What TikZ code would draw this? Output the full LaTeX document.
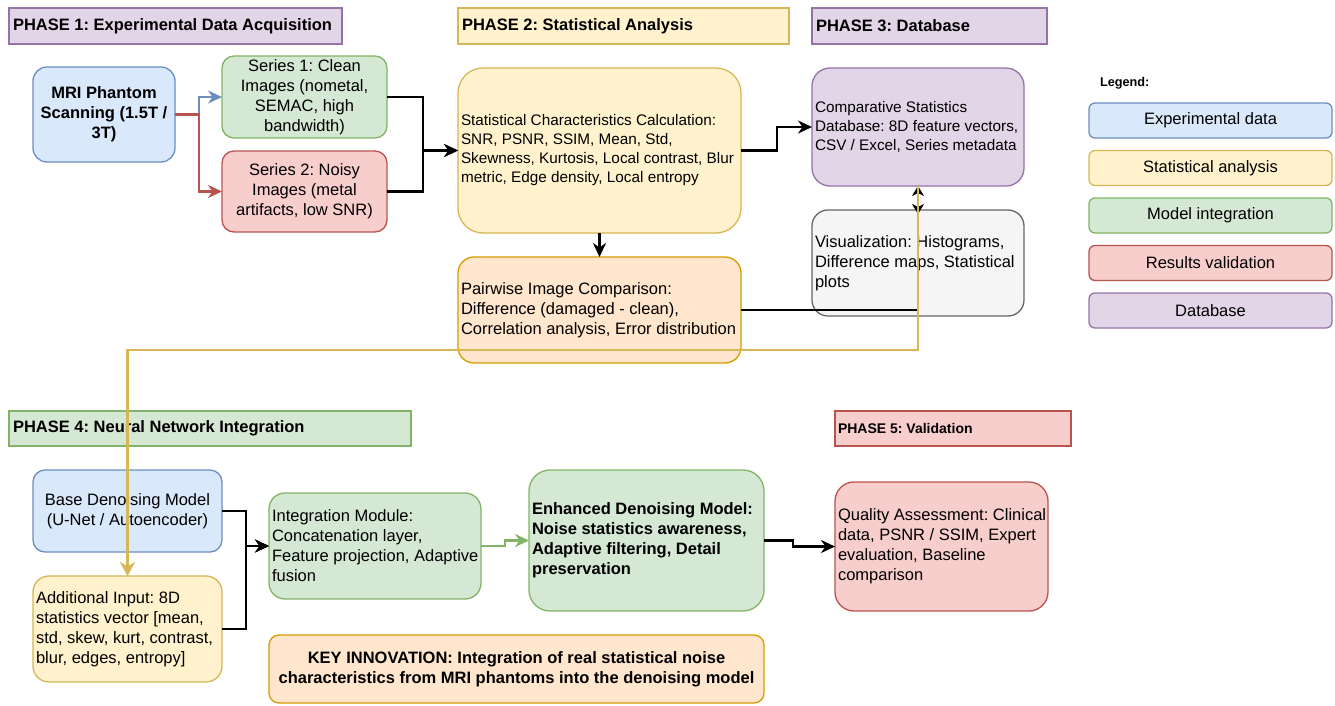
\documentclass[tikz,border=0pt]{standalone}
\usepackage{fontspec}
\setmainfont{Liberation Sans}
\usetikzlibrary{arrows.meta}
\frenchspacing
\definecolor{bluef}{HTML}{DAE8FC}\definecolor{blued}{HTML}{6C8EBF}
\definecolor{yelf}{HTML}{FFF2CC}\definecolor{yeld}{HTML}{D6B656}
\definecolor{grnf}{HTML}{D5E8D4}\definecolor{grnd}{HTML}{82B366}
\definecolor{redf}{HTML}{F8CECC}\definecolor{redd}{HTML}{B85450}
\definecolor{purf}{HTML}{E1D5E7}\definecolor{purd}{HTML}{9673A6}
\definecolor{orf}{HTML}{FFE6CC}\definecolor{ord}{HTML}{D79B00}
\definecolor{gryf}{HTML}{F5F5F5}\definecolor{gryd}{HTML}{666666}
\newcommand{\fsA}{\fontsize{16.5}{20}\selectfont}
\newcommand{\fsB}{\fontsize{15.3}{19}\selectfont}
\newcommand{\fsT}{\fontsize{16.5}{20}\selectfont\bfseries}
\begin{document}
\begin{tikzpicture}[x=1pt,y=-1pt,
  bx/.style={draw, line width=1.3pt, inner sep=0pt, outer sep=0pt, align=center},
  phase/.style={bx, rounded corners=0pt},
  lbl/.style={anchor=west, align=left, inner sep=0pt, outer sep=0pt},
  tip/.style={-{Stealth[length=14pt,width=13pt,inset=4.5pt]}},
  smalltip/.style={-{Stealth[length=10pt,width=12pt,inset=3pt]}},
  arr/.style={tip, line width=2.2pt, black},
  bluearr/.style={tip, line width=2.2pt, blued},
  redarr/.style={tip, line width=2.2pt, redd},
  garr/.style={tip, line width=2.2pt, grnd},
  yarr/.style={-{Stealth[length=14pt,width=15pt,inset=4.5pt]}, line width=2.2pt, yeld},
  leg/.style={bx, rounded corners=6pt, minimum width=243pt, minimum height=35pt, font=\fsA}]
\useasboundingbox (0,0) rectangle (1335,705);
\fill[white] (0,0) rectangle (1335,705);

% phase headers
\node[phase, fill=purf, draw=purd, minimum width=333pt, minimum height=36pt] (p1) at (175.5,26) {};
\node[lbl, font=\fsT] (p1t) at ([xshift=4pt]p1.west) {PHASE 1: Experimental Data Acquisition};
\node[phase, fill=yelf, draw=yeld, minimum width=331pt, minimum height=36pt] (p2) at (623.5,26) {};
\node[lbl, font=\fsT] (p2t) at ([xshift=4pt]p2.west) {PHASE 2: Statistical Analysis};
\node[phase, fill=purf, draw=purd, minimum width=235pt, minimum height=36pt] (p3) at (929.5,26) {};
\node[lbl, font=\fsT] (p3t) at ([xshift=4pt]p3.west) {PHASE 3: Database};
\node[phase, fill=grnf, draw=grnd, minimum width=402pt, minimum height=35pt] (p4) at (210,428.5) {};
\node[lbl, font=\fsT] (p4t) at ([xshift=4pt]p4.west) {PHASE 4: Neural Network Integration};
\node[phase, fill=redf, draw=redd, minimum width=236pt, minimum height=35pt] (p5) at (953,428.5) {};
\node[lbl, font=\fontsize{14}{17}\selectfont\bfseries] (p5t) at ([xshift=3pt]p5.west) {PHASE 5: Validation};

% phase 1
\node[bx, fill=bluef, draw=blued, minimum width=142pt, minimum height=95pt, rounded corners=14pt, font=\fsT] (mri) at (104,114.5) {MRI Phantom\\Scanning (1.5T /\\3T)};
\node[bx, fill=grnf, draw=grnd, minimum width=165pt, minimum height=82pt, rounded corners=12pt, font=\fsA] (s1) at (304.5,97) {Series 1: Clean\\Images (nometal,\\SEMAC, high\\bandwidth)};
\node[bx, fill=redf, draw=redd, minimum width=165pt, minimum height=81pt, rounded corners=12pt, font=\fsA] (s2) at (304.5,191.5) {Series 2: Noisy\\Images (metal\\artifacts, low SNR)};

% phase 2
\node[bx, fill=yelf, draw=yeld, minimum width=283pt, minimum height=165pt, rounded corners=25pt] (stat) at (599.5,150.5) {};
\node[lbl, font=\fsB] (statt) at ([xshift=3pt]stat.west) {Statistical Characteristics Calculation:\\SNR, PSNR, SSIM, Mean, Std,\\Skewness, Kurtosis, Local contrast, Blur\\metric, Edge density, Local entropy};
\node[bx, fill=orf, draw=ord, minimum width=283pt, minimum height=106pt, rounded corners=16pt] (pair) at (599.5,310) {};
\node[lbl, font=\fsA] (pairt) at ([xshift=3pt]pair.west) {Pairwise Image Comparison:\\Difference (damaged - clean),\\Correlation analysis, Error distribution};

% phase 3
\node[bx, fill=purf, draw=purd, minimum width=212pt, minimum height=118pt, rounded corners=18pt] (db) at (918,127) {};
\node[lbl, font=\fsB] (dbt) at ([xshift=3pt]db.west) {Comparative Statistics\\Database: 8D feature vectors,\\CSV / Excel, Series metadata};
\node[bx, fill=gryf, draw=gryd, minimum width=212pt, minimum height=106pt, rounded corners=16pt] (vis) at (918,263) {};
\node[lbl, font=\fsA] (vist) at ([xshift=3pt]vis.west) {Visualization: Histograms,\\Difference maps, Statistical\\plots};

% legend
\node[lbl, font=\fontsize{12.7}{15}\selectfont\bfseries] (legt) at (1100,83) {Legend:};
\node[leg, fill=bluef, draw=blued] (l1) at (1210.5,120.5) {Experimental data};
\node[leg, fill=yelf, draw=yeld] (l2) at (1210.5,168) {Statistical analysis};
\node[leg, fill=grnf, draw=grnd] (l3) at (1210.5,215.5) {Model integration};
\node[leg, fill=redf, draw=redd] (l4) at (1210.5,263) {Results validation};
\node[leg, fill=purf, draw=purd] (l5) at (1210.5,310.5) {Database};

% phase 4
\node[bx, fill=bluef, draw=blued, minimum width=189pt, minimum height=82pt, rounded corners=12pt, font=\fsA] (base) at (127.5,511) {Base Denoising Model\\(U-Net / Autoencoder)};
\node[bx, fill=yelf, draw=yeld, minimum width=189pt, minimum height=106pt, rounded corners=16pt] (add) at (127.5,629) {};
\node[lbl, font=\fsA] (addt) at ([xshift=3pt]add.west) {Additional Input: 8D\\statistics vector [mean,\\std, skew, kurt, contrast,\\blur, edges, entropy]};
\node[bx, fill=grnf, draw=grnd, minimum width=212pt, minimum height=106pt, rounded corners=16pt] (integ) at (375,546) {};
\node[lbl, font=\fsA] (integt) at ([xshift=3pt]integ.west) {Integration Module:\\Concatenation layer,\\Feature projection, Adaptive\\fusion};
\node[bx, fill=grnf, draw=grnd, minimum width=235pt, minimum height=141pt, rounded corners=21pt] (enh) at (646.5,540.5) {};
\node[lbl, font=\fsT] (enht) at ([xshift=3pt]enh.west) {Enhanced Denoising Model:\\Noise statistics awareness,\\Adaptive filtering, Detail\\preservation};
\node[bx, fill=orf, draw=ord, minimum width=495pt, minimum height=68pt, rounded corners=10pt, font=\fsT] (key) at (516.5,669) {KEY INNOVATION: Integration of real statistical noise\\characteristics from MRI phantoms into the denoising model};

% phase 5
\node[bx, fill=redf, draw=redd, minimum width=213pt, minimum height=129pt, rounded corners=19pt] (qual) at (941.5,546.5) {};
\node[lbl, font=\fsA] (qualt) at ([xshift=3pt]qual.west) {Quality Assessment: Clinical\\data, PSNR / SSIM, Expert\\evaluation, Baseline\\comparison};

% connectors
\draw[bluearr] (mri.east) -- ++(24,0) |- (s1.west);
\draw[redarr] (mri.east) -- ++(24,0) |- (s2.west);
\draw[arr] (s1.east) -- ++(36,0) |- (stat.west);
\draw[arr] (s2.east) -- ++(36,0) |- (stat.west);
\draw[arr] (stat.east) -- ++(36,0) |- (db.west);
\draw[arr] (stat.south) -- (pair.north);
\draw[line width=2.2pt, smalltip] (pair.east) -| (db.south);
\draw[line width=2.2pt, smalltip] ([yshift=-9pt]db.south) -- ([yshift=-4pt]vis.north);
\draw[yarr] (db.south) -- ++(0,164) -| (add.north);
\draw[arr] (base.east) -- ++(24,0) |- (integ.west);
\draw[arr] (add.east) -- ++(24,0) |- (integ.west);
\draw[garr] (integ.east) -- ++(24,0) |- (enh.west);
\draw[arr] (enh.east) -- ++(29,0) |- (qual.west);
\end{tikzpicture}
\end{document}
